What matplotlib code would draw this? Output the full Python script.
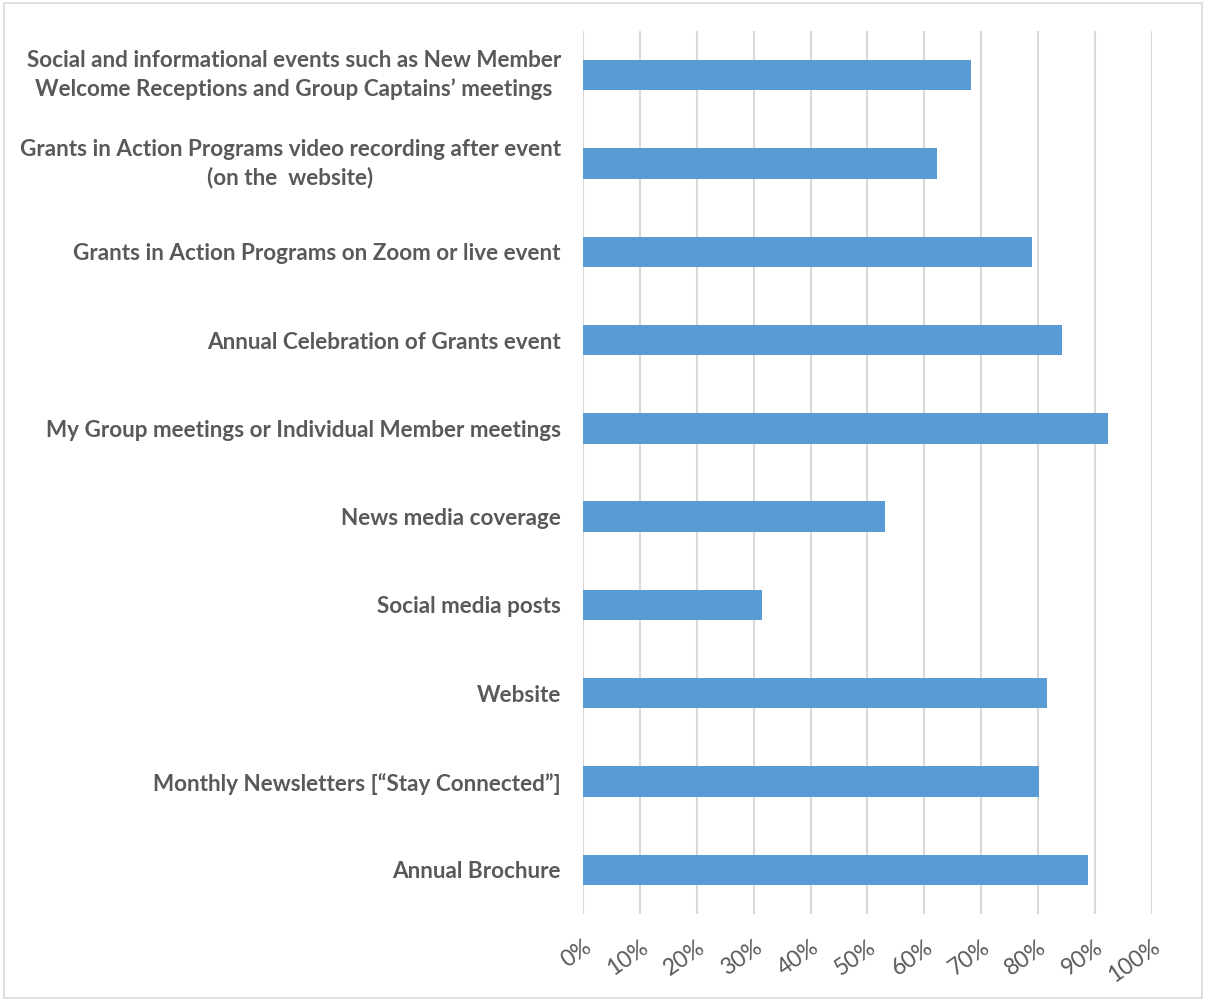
import matplotlib
matplotlib.use("Agg")
import matplotlib.pyplot as plt
from matplotlib.patches import Rectangle

categories = [
    "Social and informational events such as New Member\nWelcome Receptions and Group Captains\u2019 meetings",
    "Grants in Action Programs video recording after event\n(on the  website)",
    "Grants in Action Programs on Zoom or live event",
    "Annual Celebration of Grants event",
    "My Group meetings or Individual Member meetings",
    "News media coverage",
    "Social media posts",
    "Website",
    "Monthly Newsletters [\u201cStay Connected\u201d]",
    "Annual Brochure",
]
values = [68.2, 62.3, 79.0, 84.2, 92.3, 53.1, 31.5, 81.6, 80.1, 88.8]
tick_values = [0, 10, 20, 30, 40, 50, 60, 70, 80, 90, 100]
tick_labels = [f"{v}%" for v in tick_values]

plt.rcParams['font.family'] = ['Lato', 'DejaVu Sans']

fig = plt.figure(figsize=(12.06, 10.01), dpi=100)
ax = fig.add_axes([0.4834, 0.0869, 0.9552 - 0.4834, 0.969 - 0.0869])

y = list(range(len(categories)))
ax.barh(y, values, height=0.345, color="#5B9BD5", zorder=3)
ax.set_ylim(len(categories) - 0.5, -0.5)
ax.set_xlim(0, 100)

ax.set_xticks(tick_values)
ax.set_xticklabels(tick_labels, rotation=35, ha='right', va='top',
                   rotation_mode='anchor', fontsize=16.5, color="#595959")
ax.set_yticks(y)
ax.set_yticklabels(categories, fontsize=16.2, fontweight='bold',
                   color="#595959", multialignment='center',
                   linespacing=1.4)
for lbl in ax.get_yticklabels():
    if "\n" in lbl.get_text():
        lbl.set_verticalalignment('center')
ax.tick_params(axis='x', length=0, pad=16)
ax.tick_params(axis='y', length=0, pad=16)

ax.grid(axis='x', color="#D9D9D9", linewidth=1.5, zorder=0)
for s in ax.spines.values():
    s.set_visible(False)

fig.patches.append(Rectangle((0.003, 0.003), 0.994, 0.994, transform=fig.transFigure,
                             fill=False, edgecolor="#D9D9D9", linewidth=1.2))

fig.savefig("out.png", dpi=100)
